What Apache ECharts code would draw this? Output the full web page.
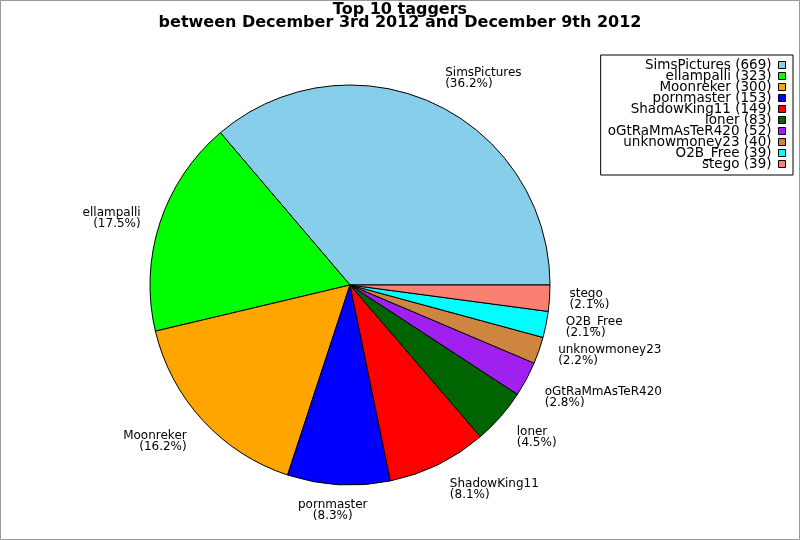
<!DOCTYPE html>
<html>
<head>
<meta charset="utf-8">
<script src="https://cdn.jsdelivr.net/npm/echarts@6/dist/echarts.min.js"></script>
<style>
html,body{margin:0;padding:0;background:#fff;}
#chart{width:800px;height:540px;}
</style>
</head>
<body>
<div id="chart"></div>
<script>
const names = ['SimsPictures','ellampalli','Moonreker','pornmaster','ShadowKing11','loner','oGtRaMmAsTeR420','unknowmoney23','O2B_Free','stego'];
const counts = [669,323,300,153,149,83,52,40,39,39];
const colors = ['#87CEEB','#00FF00','#FFA500','#0000FF','#FF0000','#006400','#A020F0','#CD853F','#00FFFF','#FA8072'];
const titleLines = ['Top 10 taggers','between December 3rd 2012 and December 9th 2012'];

const chart = echarts.init(document.getElementById('chart'));
const data = names.map((n,i)=>({name:n, value:counts[i], itemStyle:{color:colors[i]}}));
const FONT = '"DejaVu Sans", sans-serif';
const total = counts.reduce((a,b)=>a+b,0);
// mid angle (counter-clockwise from 3 o'clock) of each slice, derived from the data
const midAngles = (function(){ let acc=0; return counts.map(v=>{ const m=(acc+v/2)/total*2*Math.PI; acc+=v; return m; }); })();

chart.setOption({
  animation:false,
  backgroundColor:'#fff',
  graphic:[{type:'rect', shape:{x:0.5,y:0.5,width:799,height:539}, style:{fill:'none', stroke:'#999', lineWidth:1}, silent:true, z:-1}],
  title:{
    text: titleLines.join('\n'),
    left:'center', top:3, padding:0,
    textStyle:{fontFamily:FONT, fontWeight:'bold', fontSize:16, lineHeight:13, color:'#000'}
  },
  legend:{
    orient:'vertical', right:7, top:55, align:'right',
    icon:'rect', itemWidth:7, itemHeight:7, itemGap:-3,
    padding:[3,7,4,7],
    borderColor:'#000', borderWidth:1, backgroundColor:'#fff',
    textStyle:{fontFamily:FONT, fontSize:13.5, lineHeight:11, color:'#000', padding:[0,2,0,0]},
    formatter: function(n){ return n + ' (' + counts[names.indexOf(n)] + ')'; },
    itemStyle:{borderColor:'#000', borderWidth:1}
  },
  series:[{
    type:'pie',
    center:[350,285], radius:200,
    startAngle:0, clockwise:false,
    percentPrecision:1,
    avoidLabelOverlap:true,
    itemStyle:{borderColor:'#000', borderWidth:1},
    label:{
      show:true, position:'outside',
      formatter:'{b}\n({d}%)',
      fontFamily:FONT, fontSize:12, lineHeight:11, color:'#000'
    },
    labelLine:{show:false, length:15, length2:0},
    labelLayout:function(p){
      const s = Math.sin(midAngles[p.dataIndex]);
      const c = Math.cos(midAngles[p.dataIndex]);
      const out = {};
      if (s > 0.4) out.verticalAlign = 'bottom';
      else if (s < -0.4) out.verticalAlign = 'top';
      if (Math.abs(c) < 0.2) out.align = 'center';
      return out;
    },
    emphasis:{disabled:true},
    data:data
  }]
});
</script>
</body>
</html>
